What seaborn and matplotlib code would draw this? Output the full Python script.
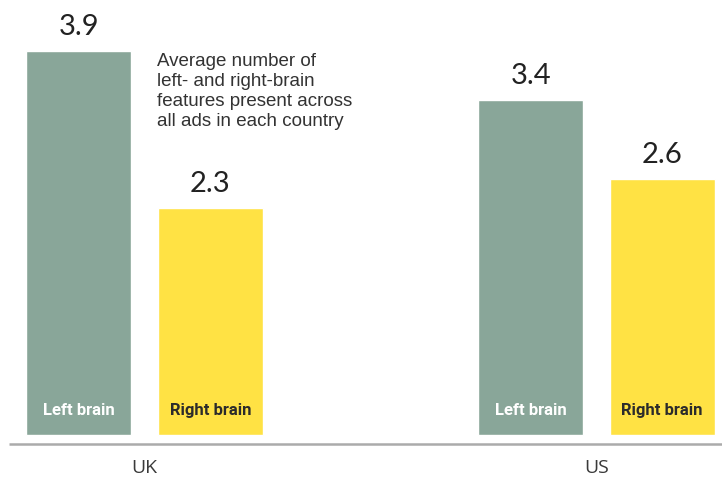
import matplotlib
matplotlib.use("Agg")
import matplotlib.pyplot as plt
import seaborn as sns
import pandas as pd

countries = ["UK", "UK", "US", "US"]
sides = ["Left brain", "Right brain", "Left brain", "Right brain"]
values = [3.9, 2.3, 3.4, 2.6]
country_order = ["UK", "US"]
side_order = ["Left brain", "Right brain"]
colors = {"Left brain": "#89a699", "Right brain": "#ffe244"}
inner_text_colors = {"Left brain": "white", "Right brain": "#2b2b2b"}
note = "Average number of\nleft- and right-brain\nfeatures present across\nall ads in each country"

df = pd.DataFrame({"country": countries, "side": sides, "value": values})

sns.set_theme(style="white")
plt.rcParams["font.family"] = ["Lato", "DejaVu Sans"]

fig = plt.figure(figsize=(7.22, 4.78), dpi=100)
ax = fig.add_axes([0, 0, 1, 1])

sns.barplot(data=df, x="country", y="value", hue="side", order=country_order,
            hue_order=side_order, palette=colors, width=0.582, gap=0.2,
            saturation=1, legend=False, ax=ax, errorbar=None)

ax.set_xlim(-0.3197, 1.2777)
ax.set_ylim(-0.4365, 4.416)
ax.axis("off")

# value labels and inner labels
for side, cont in zip(side_order, ax.containers):
    ax.bar_label(cont, labels=[f"{v:.1f}" for v in cont.datavalues], padding=8,
                 fontsize=21, color="#222222", family=["Lato", "DejaVu Sans"])
    for bar in cont:
        cx = bar.get_x() + bar.get_width() / 2
        ax.text(cx, 0.25, side, ha="center", va="center", fontsize=12,
                fontweight="bold", color=inner_text_colors[side],
                family=["Roboto", "DejaVu Sans"])

# baseline
ax.plot([-0.2998, 1.2777], [-0.0914, -0.0914], color="#ababab", lw=1.8,
        solid_capstyle="butt", clip_on=False)

# category labels
for i, c in enumerate(country_order):
    ax.text(i, -0.33, c, ha="center", va="center", fontsize=14,
            color="#3a3a3a", family=["Open Sans", "DejaVu Sans"])

# annotation
ax.text(0.0277, 3.88, note, ha="left", va="top", fontsize=13.5,
        color="#333333", linespacing=1.23,
        family=["Liberation Sans", "DejaVu Sans"])

fig.savefig("out.png", dpi=100)
